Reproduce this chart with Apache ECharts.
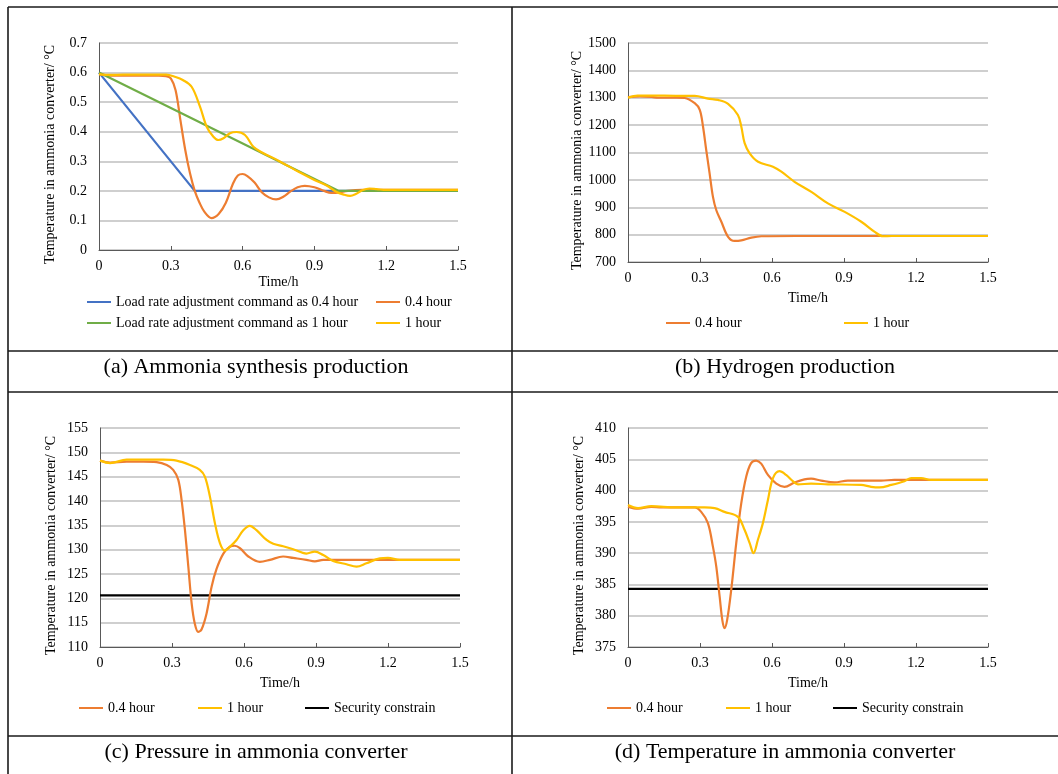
<!DOCTYPE html>
<html><head><meta charset="utf-8">
<script src="https://cdn.jsdelivr.net/npm/echarts@6/dist/echarts.min.js"></script>
<style>html,body{margin:0;padding:0;background:#fff}#c{width:1058px;height:774px}</style>
</head><body><div id="c"></div>
<script>
// ---------- data ----------
const xTickLabels = ['0','0.3','0.6','0.9','1.2','1.5'];
const captions = ['(a) Ammonia synthesis production','(b) Hydrogen production','(c) Pressure in ammonia converter','(d) Temperature in ammonia converter'];
const yName = 'Temperature in ammonia converter/ °C';
const xName = 'Time/h';

// panel (a)
const a_cmd04 = [[0,0.6],[0.4,0.2],[1.5,0.2]];
const a_cmd1  = [[0,0.6],[1.0,0.2],[1.5,0.2]];
const a_h04 = [[0,0.595],[0.05,0.59],[0.1,0.59],[0.15,0.59],[0.2,0.59],[0.25,0.59],[0.28,0.588],[0.3,0.58],[0.32,0.54],[0.34,0.44],[0.36,0.34],[0.38,0.26],[0.40,0.2],[0.42,0.16],[0.44,0.13],[0.47,0.108],[0.5,0.122],[0.53,0.16],[0.56,0.225],[0.58,0.252],[0.6,0.257],[0.62,0.25],[0.65,0.228],[0.68,0.195],[0.71,0.178],[0.74,0.171],[0.77,0.18],[0.8,0.198],[0.83,0.212],[0.86,0.217],[0.9,0.212],[0.94,0.2],[0.97,0.193],[1.0,0.194],[1.04,0.2],[1.1,0.203],[1.5,0.203]];
const a_h1 = [[0,0.595],[0.05,0.592],[0.1,0.593],[0.2,0.593],[0.28,0.593],[0.32,0.585],[0.35,0.575],[0.387,0.552],[0.422,0.485],[0.45,0.417],[0.478,0.383],[0.498,0.372],[0.52,0.378],[0.547,0.395],[0.575,0.399],[0.61,0.389],[0.645,0.349],[0.687,0.327],[0.75,0.302],[0.84,0.262],[0.9,0.237],[0.951,0.218],[0.993,0.196],[1.02,0.188],[1.049,0.183],[1.075,0.19],[1.1,0.202],[1.13,0.208],[1.16,0.206],[1.2,0.203],[1.5,0.203]];

// panel (b)
const b_h04 = [[0,1302],[0.05,1305],[0.1,1303],[0.125,1300],[0.2,1300],[0.236,1299],[0.278,1280],[0.299,1256],[0.3125,1195],[0.326,1109],[0.34,1024],[0.354,938],[0.368,889],[0.389,847],[0.417,792],[0.444,777],[0.472,779],[0.514,789],[0.556,794],[0.7,795],[1.5,795]];
const b_h1 = [[0,1300],[0.04,1308],[0.1,1308],[0.2,1307],[0.278,1307],[0.333,1297],[0.375,1292],[0.417,1278],[0.458,1237],[0.472,1195],[0.486,1134],[0.507,1097],[0.542,1066],[0.604,1048],[0.639,1030],[0.694,993],[0.764,956],[0.833,914],[0.903,883],[0.972,847],[1.028,810],[1.0625,794],[1.1,795],[1.5,795]];

// panel (c)
const c_h04 = [[0,148.3],[0.042,147.9],[0.111,148.1],[0.18,148.1],[0.236,148.0],[0.278,147.4],[0.305,146.4],[0.326,144.4],[0.34,140.2],[0.354,134.0],[0.368,126.5],[0.382,118.9],[0.395,114.8],[0.409,113.1],[0.423,113.6],[0.444,116.9],[0.465,122.4],[0.486,126.1],[0.514,129.2],[0.541,130.6],[0.562,130.8],[0.583,130.3],[0.618,128.6],[0.666,127.5],[0.708,127.9],[0.763,128.6],[0.805,128.3],[0.86,127.9],[0.895,127.6],[0.93,127.9],[1.0,127.9],[1.5,127.9]];
const c_h1 = [[0,148.3],[0.042,147.8],[0.111,148.5],[0.2,148.5],[0.264,148.5],[0.319,148.3],[0.375,147.4],[0.416,146.4],[0.437,145.0],[0.458,140.9],[0.479,135.4],[0.5,131.3],[0.52,129.8],[0.541,130.6],[0.569,132.0],[0.597,134.0],[0.624,134.9],[0.652,134.0],[0.694,132.0],[0.722,131.2],[0.763,130.7],[0.805,130.1],[0.86,129.2],[0.895,129.6],[0.93,128.9],[0.971,127.7],[1.027,127.0],[1.069,126.5],[1.11,127.2],[1.166,128.2],[1.2,128.3],[1.249,127.9],[1.5,127.9]];
const c_sec = [[0,120.6],[1.5,120.6]];

// panel (d)
const d_h04 = [[0,397.4],[0.042,397.1],[0.097,397.4],[0.139,397.3],[0.2,397.3],[0.278,397.3],[0.305,396.6],[0.333,394.8],[0.354,391.0],[0.368,387.8],[0.382,383.0],[0.393,379.3],[0.402,378.0],[0.413,379.3],[0.43,384.1],[0.451,391.6],[0.472,398.0],[0.493,402.3],[0.513,404.4],[0.534,404.8],[0.555,404.3],[0.583,402.5],[0.618,401.1],[0.652,400.6],[0.694,401.3],[0.735,401.8],[0.763,401.9],[0.805,401.6],[0.86,401.3],[0.916,401.6],[0.971,401.6],[1.055,401.6],[1.11,401.7],[1.25,401.7],[1.5,401.7]];
const d_h1 = [[0,397.7],[0.042,397.2],[0.097,397.5],[0.2,397.3],[0.278,397.3],[0.319,397.3],[0.361,397.2],[0.402,396.6],[0.458,395.8],[0.486,393.7],[0.507,391.6],[0.523,390.0],[0.541,392.1],[0.562,394.8],[0.583,398.5],[0.604,402.0],[0.631,403.1],[0.659,402.5],[0.687,401.5],[0.708,401.0],[0.763,401.1],[0.833,401.0],[0.971,400.9],[1.013,400.6],[1.048,400.5],[1.097,400.9],[1.152,401.5],[1.18,402.0],[1.221,402.0],[1.263,401.7],[1.5,401.7]];
const d_sec = [[0,384.3],[1.5,384.3]];

// y-axis ranges per panel
const yRanges = [[0,0.7,0.1],[700,1500,100],[110,155,5],[375,410,5]];

// ---------- styling ----------
const F = '"Liberation Serif", "Times New Roman", serif';
const C = {blue:'#4472C4', orange:'#ED7D31', green:'#70AD47', yellow:'#FFC000', black:'#000000'};
const grids = [
  {left:99, top:43, width:359, height:207},
  {left:628, top:43, width:360, height:219},
  {left:100, top:428, width:360, height:219},
  {left:628, top:428, width:360, height:219}
];
const xNameGap = [25, 29, 29, 29];

const xAxes = grids.map((g,i)=>({
  type:'value', gridIndex:i, min:0, max:1.5, interval:0.3,
  name:xName, nameLocation:'middle', nameGap:xNameGap[i],
  nameTextStyle:{fontFamily:F, fontSize:14, color:'#000'},
  axisLine:{lineStyle:{color:'#595959', width:1}},
  axisTick:{show:true, inside:true, length:4, lineStyle:{color:'#595959'}},
  splitLine:{show:false},
  axisLabel:{fontFamily:F, fontSize:14, color:'#000', margin:9,
    formatter:v=>xTickLabels[Math.round(v/0.3)]}
}));
const yAxes = grids.map((g,i)=>({
  type:'value', gridIndex:i, min:yRanges[i][0], max:yRanges[i][1], interval:yRanges[i][2],
  name:yName, nameLocation:'middle', nameGap:42, nameRotate:90,
  nameTextStyle:{fontFamily:F, fontSize:14, color:'#000', padding:[0,16,0,0]},
  axisLine:{show:true, lineStyle:{color:'#595959', width:1}},
  axisTick:{show:false},
  splitLine:{show:true, lineStyle:{color:'#BFBFBF', width:1.5}},
  axisLabel:{fontFamily:F, fontSize:14, color:'#000', margin:12,
    formatter:v=> i===0 ? (v===0?'0':v.toFixed(1)) : String(Math.round(v))}
}));

function line(name, data, color, gi, smooth){
  return {type:'line', name, data, xAxisIndex:gi, yAxisIndex:gi, smooth:smooth,
    showSymbol:false, symbol:'none',
    lineStyle:{color, width:2.2}, itemStyle:{color}, animation:false};
}
const S = 0.35;
const series = [
  line('Load rate adjustment command as 0.4 hour', a_cmd04, C.blue, 0, false),
  line('0.4 hour', a_h04, C.orange, 0, S),
  line('Load rate adjustment command as 1 hour', a_cmd1, C.green, 0, false),
  line('1 hour', a_h1, C.yellow, 0, S),
  line('0.4 hour', b_h04, C.orange, 1, S),
  line('1 hour', b_h1, C.yellow, 1, S),
  line('Security constrain', c_sec, C.black, 2, false),
  line('0.4 hour', c_h04, C.orange, 2, S),
  line('1 hour', c_h1, C.yellow, 2, S),
  line('Security constrain', d_sec, C.black, 3, false),
  line('0.4 hour', d_h04, C.orange, 3, S),
  line('1 hour', d_h1, C.yellow, 3, S)
];

function legendItem(name, left, top){
  return {data:[name], left, top, icon:'rect', itemWidth:24, itemHeight:2, itemGap:0, padding:0,
    selectedMode:false, textStyle:{fontFamily:F, fontSize:14, color:'#000', lineHeight:16}};
}
const legends = [
  legendItem('Load rate adjustment command as 0.4 hour', 87, 294),
  legendItem('Load rate adjustment command as 1 hour', 87, 315),
  legendItem('0.4 hour', 376, 294),
  legendItem('1 hour', 376, 315),
  legendItem('0.4 hour', 666, 315),
  legendItem('1 hour', 844, 315),
  legendItem('0.4 hour', 79, 700),
  legendItem('1 hour', 198, 700),
  legendItem('Security constrain', 305, 700),
  legendItem('0.4 hour', 607, 700),
  legendItem('1 hour', 726, 700),
  legendItem('Security constrain', 833, 700)
];

const B = '#1a1a1a';
function hl(x1,y1,x2,y2){return {type:'line', shape:{x1,y1,x2,y2}, style:{stroke:B, lineWidth:1.6}, silent:true};}
function cap(t,x,y){return {type:'text', x, y, silent:true, style:{text:t, x:0, y:0, align:'center', verticalAlign:'middle', font:'22px '+F, fill:'#000'}};}
const graphics = [
  hl(8,7,1058,7), hl(8,7,8,774), hl(512,7,512,774),
  hl(8,351,1058,351), hl(8,392,1058,392), hl(8,736,1058,736),
  cap(captions[0],256,367), cap(captions[1],785,367),
  cap(captions[2],256,752), cap(captions[3],785,752)
];

const chart = echarts.init(document.getElementById('c'), null, {renderer:'canvas'});
chart.setOption({
  backgroundColor:'#fff', animation:false,
  grid:grids, xAxis:xAxes, yAxis:yAxes, series, legend:legends, graphic:graphics
});
</script></body></html>
